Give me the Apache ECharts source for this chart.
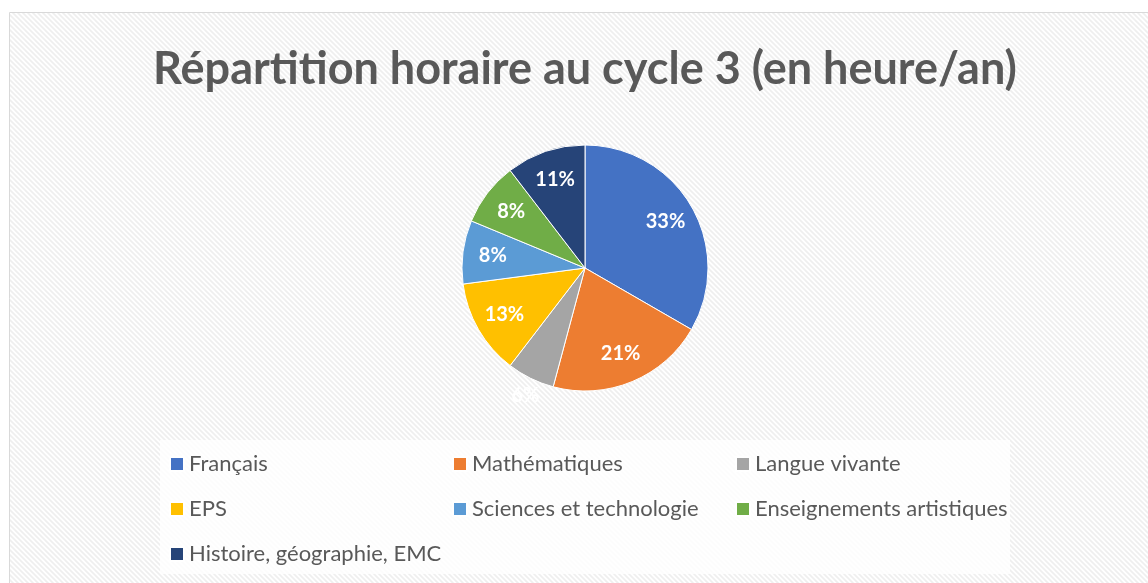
<!DOCTYPE html>
<html>
<head>
<meta charset="utf-8">
<script src="https://cdn.jsdelivr.net/npm/echarts@6/dist/echarts.min.js"></script>
<style>
html,body{margin:0;padding:0;background:#fff;}
#c{width:1148px;height:583px;}
</style>
</head>
<body>
<div id="c"></div>
<script>
const categories = ['Français', 'Mathématiques', 'Langue vivante', 'EPS', 'Sciences et technologie', 'Enseignements artistiques', 'Histoire, géographie, EMC'];
const hours = [288, 180, 54, 108, 72, 72, 90];
const colors = ['#4472C4', '#ED7D31', '#A5A5A5', '#FFC000', '#5B9BD5', '#70AD47', '#264478'];
const titleText = 'Répartition horaire au cycle 3 (en heure/an)';
const legendCols = [
  ['Français', 'EPS', 'Histoire, géographie, EMC'],
  ['Mathématiques', 'Sciences et technologie'],
  ['Langue vivante', 'Enseignements artistiques']
];

// diagonal stripe pattern
const pc = document.createElement('canvas');
pc.width = 5; pc.height = 5;
const g = pc.getContext('2d');
g.fillStyle = '#ffffff'; g.fillRect(0, 0, 5, 5);
g.strokeStyle = '#efefef'; g.lineWidth = 1.6;
g.beginPath();
g.moveTo(-1, -1); g.lineTo(6, 6);
g.moveTo(-1, 4); g.lineTo(1, 6);
g.moveTo(4, -1); g.lineTo(6, 1);
g.stroke();

const chart = echarts.init(document.getElementById('c'), null, {renderer: 'canvas'});
const font = 'Lato, "Open Sans", sans-serif';

const mainData = categories.map((n, i) => ({name: n, value: hours[i], itemStyle: {color: colors[i]}}));
const labelData = categories.map((n, i) => {
  const d = {name: n, value: hours[i]};
  if (i === 2) {
    d.label = {position: 'outside', offset: [20, 5]};
    d.labelLine = {show: false, length: 14, length2: 0};
  }
  return d;
});

const legendX = [169, 452, 735];
const legends = legendCols.map((col, k) => ({
  orient: 'vertical',
  left: legendX[k],
  top: 453,
  padding: 0,
  itemWidth: 14,
  itemHeight: 14,
  itemGap: 23,
  icon: 'rect',
  selectedMode: false,
  data: col,
  textStyle: {fontFamily: font, fontSize: 22, color: '#595959', lineHeight: 22}
}));

chart.setOption({
  animation: false,
  backgroundColor: '#ffffff',
  graphic: [
    {type: 'rect', z: -10, shape: {x: 9.5, y: 12.5, width: 1200, height: 600},
     style: {fill: {image: pc, repeat: 'repeat'}, stroke: '#d9d9d9', lineWidth: 1}, silent: true},
    {type: 'rect', z: -9, shape: {x: 160, y: 440, width: 850, height: 134},
     style: {fill: 'rgba(255,255,255,0.8)'}, silent: true}
  ],
  title: {
    text: titleText,
    left: 580,
    textAlign: 'center',
    top: 42,
    textStyle: {fontFamily: font, fontSize: 45, fontWeight: 'bold', color: '#595959'}
  },
  legend: legends,
  series: [
    {
      type: 'pie',
      center: [585, 268],
      radius: [0, 123],
      startAngle: 90,
      clockwise: true,
      silent: true,
      percentPrecision: 0,
      label: {show: false},
      labelLine: {show: false},
      itemStyle: {borderColor: '#ffffff', borderWidth: 1},
      data: mainData
    },
    {
      type: 'pie',
      center: [585, 268],
      radius: [57, 123],
      startAngle: 90,
      clockwise: true,
      silent: true,
      legendHoverLink: false,
      percentPrecision: 0,
      itemStyle: {color: 'rgba(0,0,0,0)'},
      label: {show: true, position: 'inside', formatter: '{d}%', color: '#ffffff',
              fontFamily: font, fontSize: 20, fontWeight: 'bold'},
      labelLine: {show: false},
      data: labelData
    }
  ]
});
</script>
</body>
</html>
